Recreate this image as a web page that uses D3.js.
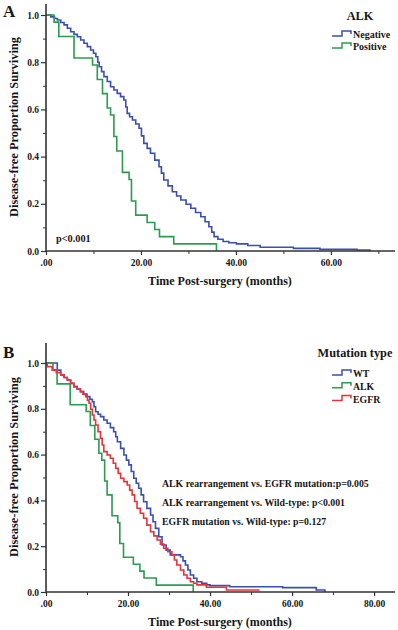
<!DOCTYPE html>
<html><head><meta charset="utf-8">
<script src="https://cdn.jsdelivr.net/npm/d3@7"></script>
<style>
html,body{margin:0;padding:0;background:#fff;}
svg{display:block;font-family:"Liberation Serif","Times New Roman",serif;font-weight:bold;}
</style></head>
<body>
<svg id="chart" width="398" height="630"></svg>
<script>
// ---- Data ----
// Panel A: ALK status
const alkNegTimes = [0,1.0,1.8,2.4,3.1,3.8,4.5,5.2,5.9,6.6,7.3,8.0,8.7,9.4,10.0,10.5,10.9,11.2,11.7,12.2,12.9,13.6,14.3,15.0,15.7,16.4,16.8,17.1,17.6,18.2,18.9,19.6,20.1,20.6,21.3,22.0,22.9,23.8,24.3,24.8,25.7,26.6,27.5,28.4,29.5,30.5,31.5,32.6,33.5,34.3,34.9,35.4,36.2,37.3,38.5,40.1,42.5,45.1,52.1,57.7,65.5,68.2];
const alkNegSurv  = [1,0.992,0.985,0.979,0.968,0.958,0.944,0.929,0.918,0.908,0.894,0.880,0.866,0.852,0.838,0.823,0.800,0.781,0.760,0.739,0.718,0.696,0.682,0.668,0.654,0.640,0.610,0.583,0.569,0.555,0.538,0.520,0.488,0.456,0.435,0.414,0.385,0.357,0.330,0.301,0.276,0.251,0.233,0.216,0.198,0.181,0.163,0.145,0.124,0.103,0.080,0.061,0.050,0.040,0.035,0.030,0.023,0.016,0.011,0.007,0.004,0];
const alkPosTimes = [0,1.7,2.7,5.9,9.8,10.8,11.9,12.9,13.6,14.3,14.9,16.1,17.5,18.0,18.9,21.3,22.9,23.9,26.9,35.9];
const alkPosSurv  = [1,0.970,0.909,0.818,0.788,0.727,0.667,0.606,0.576,0.485,0.424,0.333,0.303,0.212,0.152,0.121,0.091,0.061,0.030,0];

// Panel B: mutation type
const wtTimes = [0,2.75,3.6,4.4,5.2,6.0,6.8,7.6,8.4,9.2,10.0,10.7,11.3,11.7,12.1,12.7,13.3,14.1,14.9,15.7,16.5,17.0,17.4,18.2,19.0,19.6,20.2,20.8,21.4,22.0,22.6,23.2,23.8,24.6,25.5,26.1,26.7,27.5,28.3,29.3,30.3,32.8,33.4,34.0,34.6,35.2,36.0,36.8,38.0,39.2,40.0,44.8,57.7,65.9,68.0];
const wtSurv  = [1,0.969,0.948,0.937,0.926,0.911,0.897,0.886,0.875,0.864,0.853,0.842,0.831,0.809,0.787,0.776,0.766,0.751,0.737,0.718,0.700,0.678,0.656,0.627,0.598,0.576,0.555,0.526,0.497,0.475,0.453,0.424,0.394,0.365,0.336,0.307,0.278,0.241,0.205,0.183,0.162,0.154,0.136,0.118,0.096,0.074,0.060,0.045,0.038,0.031,0.028,0.023,0.019,0.009,0];
const egfrTimes = [0,0.3,1.5,2.5,3.6,4.4,5.2,6.0,6.8,7.6,8.4,9.0,9.7,10.1,10.5,10.9,11.3,11.7,12.1,12.7,13.3,13.7,14.1,14.9,15.7,16.4,17.0,17.6,18.2,19.0,19.8,20.4,21.0,21.6,22.2,23.0,23.8,24.6,25.5,26.3,27.1,27.9,28.7,29.7,30.7,31.3,31.9,32.8,33.6,34.4,35.2,36.0,36.8,39.1,44.0,52.1];
const egfrSurv  = [1,0.984,0.969,0.958,0.948,0.937,0.926,0.911,0.897,0.886,0.875,0.864,0.853,0.838,0.824,0.798,0.773,0.751,0.729,0.700,0.671,0.642,0.613,0.598,0.584,0.562,0.540,0.518,0.497,0.482,0.467,0.445,0.424,0.395,0.366,0.344,0.322,0.292,0.263,0.245,0.227,0.209,0.191,0.176,0.162,0.140,0.118,0.096,0.074,0.060,0.045,0.038,0.031,0.021,0.009,0.009];

const yTicks = [0,0.2,0.4,0.6,0.8,1.0];
const yMinor = [0.1,0.3,0.5,0.7,0.9];
const xTicksA = [0,20,40,60];
const xTicksB = [0,20,40,60,80];
const xMinor = [10,30,50,70];

const legendA = ["Negative","Positive"];
const legendB = ["WT","ALK","EGFR"];
const annotB = ["ALK rearrangement vs. EGFR mutation:p=0.005","ALK rearrangement vs. Wild-type: p<0.001","EGFR mutation vs. Wild-type: p=0.127"];

const BLUE="#3b4fae", GREEN="#2c9a50", RED="#e5343c", INK="#161616";

const svg = d3.select("#chart");
const fmtX = v => v===0 ? ".00" : v.toFixed(2);

function panel(cfg){
  const g = svg.append("g");
  const x = d3.scaleLinear().domain([0,cfg.xMax]).range([46,cfg.xRight]);
  const y = d3.scaleLinear().domain([0,1]).range([cfg.yBottom,cfg.yTop]);
  // series
  const line = d3.line().x(d=>x(d[0])).y(d=>y(d[1])).curve(d3.curveStepAfter);
  cfg.series.forEach(s=>{
    const pts = s.t.map((t,i)=>[t,s.s[i]]);
    g.append("path").attr("d",line(pts)).attr("fill","none")
      .attr("stroke",s.color).attr("stroke-width",1.6);
  });
  // y axis
  const ya = g.append("g").attr("transform","translate(46,0)")
    .call(d3.axisLeft(y).tickValues(yTicks).tickFormat(d3.format(".1f")).tickSize(5).tickPadding(2));
  ya.select(".domain").remove();
  ya.selectAll("text").attr("font-size",9.5).attr("font-family","Liberation Serif").attr("font-weight","bold").attr("fill",INK);
  ya.selectAll("line").attr("stroke","#333").attr("stroke-width",1.2);
  const ym = g.append("g").attr("transform","translate(46,0)")
    .call(d3.axisLeft(y).tickValues(yMinor).tickFormat("").tickSize(3));
  ym.select(".domain").remove();
  ym.selectAll("line").attr("stroke","#333").attr("stroke-width",1);
  g.append("line").attr("x1",46).attr("x2",46).attr("y1",cfg.yBottom).attr("y2",cfg.axisTop)
    .attr("stroke","#333").attr("stroke-width",1.6);
  // x axis
  const xa = g.append("g").attr("transform",`translate(0,${cfg.yBottom})`)
    .call(d3.axisBottom(x).tickValues(cfg.xTicks).tickFormat(fmtX).tickSize(4).tickPadding(4));
  xa.select(".domain").remove();
  xa.selectAll("text").attr("font-size",9.5).attr("font-family","Liberation Serif").attr("font-weight","bold").attr("fill",INK);
  xa.selectAll("line").attr("stroke","#333").attr("stroke-width",1.2);
  const xm = g.append("g").attr("transform",`translate(0,${cfg.yBottom})`)
    .call(d3.axisBottom(x).tickValues(xMinor).tickFormat("").tickSize(3));
  xm.select(".domain").remove();
  xm.selectAll("line").attr("stroke","#333").attr("stroke-width",1);
  g.append("line").attr("x1",46).attr("x2",395).attr("y1",cfg.yBottom).attr("y2",cfg.yBottom)
    .attr("stroke","#333").attr("stroke-width",1.6);
  // titles
  g.append("text").attr("x",220).attr("y",cfg.yBottom+34).attr("text-anchor","middle")
    .attr("font-size",12).attr("fill",INK).text("Time Post-surgery (months)");
  const cy = cfg.yLabelC;
  g.append("text").attr("transform",`translate(18,${cy}) rotate(-90)`).attr("text-anchor","middle")
    .attr("font-size",12.4).attr("fill",INK).text("Disease-free Proportion Surviving");
  g.append("text").attr("x",3).attr("y",cfg.letterY).attr("font-size",17).attr("fill",INK).text(cfg.letter);
  // legend
  g.append("text").attr("x",cfg.legX).attr("y",cfg.legTitleY).attr("text-anchor","middle")
    .attr("font-size",12.3).attr("fill",INK).text(cfg.legTitle);
  cfg.legItems.forEach((name,i)=>{
    const by = cfg.legY0 + i*cfg.legDy;
    const x0 = 332;
    g.append("path").attr("d",`M${x0},${by-1}H${x0+10}V${by-6}H${x0+19}V${by-3}`)
      .attr("fill","none").attr("stroke",cfg.legColors[i]).attr("stroke-width",1.5);
    g.append("text").attr("x",x0+21).attr("y",by+1).attr("font-size",cfg.legFont).attr("fill",INK).text(name);
  });
  return g;
}

const gA = panel({
  xMax:73.5, xRight:395, yBottom:251, yTop:15, axisTop:4, xTicks:xTicksA,
  series:[{t:alkNegTimes,s:alkNegSurv,color:BLUE},{t:alkPosTimes,s:alkPosSurv,color:GREEN}],
  yLabelC:127, letter:"A", letterY:17,
  legX:360, legTitleY:20, legTitle:"ALK", legItems:legendA, legColors:[BLUE,GREEN], legY0:37, legDy:12, legFont:10
});
gA.append("text").attr("x",56).attr("y",242).attr("font-size",10.3).attr("fill",INK).text("p<0.001");

const gB = panel({
  xMax:85.1, xRight:395, yBottom:592, yTop:363, axisTop:343, xTicks:xTicksB,
  series:[{t:wtTimes,s:wtSurv,color:BLUE},{t:alkPosTimes,s:alkPosSurv,color:GREEN},{t:egfrTimes,s:egfrSurv,color:RED}],
  yLabelC:467, letter:"B", letterY:358,
  legX:355, legTitleY:357, legTitle:"Mutation type", legItems:legendB, legColors:[BLUE,GREEN,RED], legY0:376, legDy:12.8, legFont:9.8
});
annotB.forEach((t,i)=>{
  gB.append("text").attr("x",162).attr("y",487+i*19.2).attr("font-size",9.8).attr("fill",INK).text(t);
});
</script>
</body></html>
